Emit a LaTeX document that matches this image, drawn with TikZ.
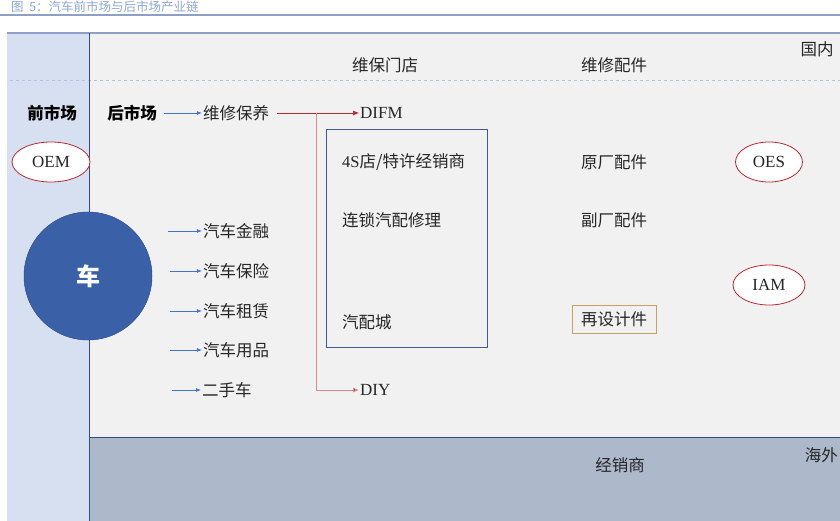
\documentclass[tikz,border=0pt]{standalone}
\usepackage{fontspec}
\setmainfont{Liberation Serif}
\newfontfamily\cjk{Noto Sans CJK SC}
\usetikzlibrary{arrows.meta,shapes.geometric}
\definecolor{leftcol}{HTML}{D6E0F0}
\definecolor{maingray}{HTML}{F1F1F1}
\definecolor{bottomcol}{HTML}{ADB8CB}
\definecolor{navy}{HTML}{2F4B8C}
\definecolor{carblue}{HTML}{3A60A8}
\definecolor{darkred}{HTML}{B8282E}
\definecolor{pinkred}{HTML}{D88A8A}
\definecolor{arrblue}{HTML}{4472C4}
\definecolor{dashcol}{HTML}{B4C3DC}
\definecolor{titleblue}{HTML}{8FA8D0}
\definecolor{framecol}{HTML}{8EA0C4}
\definecolor{boxblue}{HTML}{44598F}
\definecolor{tan}{HTML}{C8A064}
\definecolor{txt}{HTML}{262626}
\tikzset{
  ct/.style={font=\cjk\fontsize{16.5}{18}\selectfont, text=txt, inner sep=1pt},
  ctb/.style={font=\cjk\bfseries\fontsize{16.5}{18}\selectfont, text=black, inner sep=1pt},
  lt/.style={font=\fontsize{17}{19}\selectfont, text=txt, inner sep=1pt},
  oval/.style={ellipse, draw=darkred, line width=0.8pt, fill=white, font=\fontsize{17}{19}\selectfont, text=txt, inner sep=0pt},
  bluearr/.style={draw=arrblue, line width=0.7pt, -{Latex[length=5pt,width=4pt]}},
  redarr/.style={draw=darkred, line width=0.7pt, -{Latex[length=6pt,width=5pt]}},
  pinkarr/.style={draw=pinkred, line width=0.9pt, -{Latex[length=6pt,width=5pt,fill=darkred]}},
}
\begin{document}
\begin{tikzpicture}[x=1pt,y=-1pt]
\useasboundingbox (0,0) rectangle (840,521);
\clip (0,0) rectangle (840,521);
% title
\node[anchor=west, font=\cjk\fontsize{12.5}{14}\selectfont, text=titleblue, inner sep=0pt] (title) at (11,7) {图\ \ 5：汽车前市场与后市场产业链};
\draw[framecol, line width=1.2pt] (0,15) -- (840,15);
% backgrounds
\fill[leftcol] (7,33) rectangle (89,521);
\fill[maingray] (89,33) rectangle (840,437);
\fill[bottomcol] (89,437) rectangle (840,521);
\draw[framecol, line width=2pt] (7,33) -- (840,33);
\draw[dashcol, dashed, line width=0.8pt] (10,80) -- (840,80);
\draw[navy, line width=1pt] (89,437) -- (840,437);
\draw[navy, line width=1pt] (89,33) -- (89,521);
% header texts
\node[ct] (wbmd) at (385,65) {维保门店};
\node[ct] (wxpj) at (614,65) {维修配件};
\node[ct] (gn) at (817,49) {国内};
% left labels
\node[ctb] (qsc) at (52,113) {前市场};
\node[ctb] (hsc) at (132,113) {后市场};
\node[ct] (wxby) at (236,113) {维修保养};
\node[lt, anchor=west] (difm) at (359,113) {DIFM};
\node[lt, anchor=west] (diy) at (359,390) {DIY};
\draw[bluearr] (hsc.east) ++(6,0) -- (wxby.west);
\draw[redarr] (wxby.east) ++(7,0) coordinate (rs) -- (difm.west);
\coordinate (br) at (316,113);
\coordinate (bd) at (316,390);
\draw[pinkarr] (br) -- (bd) -- (diy.west);
% store box
\node[draw=boxblue, line width=1pt, minimum width=161pt, minimum height=218pt, anchor=north west, inner sep=0pt] (storebox) at (326,129) {};
\node[ct, anchor=west] (s4) at (341,162) {\fontspec{Liberation Serif}4S\cjk 店/特许经销商};
\node[ct, anchor=west] (lsqp) at (341,220) {连锁汽配修理};
\node[ct, anchor=west] (qpc) at (341,322) {汽配城};
% parts
\node[ct] (ycpj) at (614,162) {原厂配件};
\node[ct] (fcpj) at (614,220) {副厂配件};
\node[ct, draw=tan, line width=0.8pt, minimum width=84pt, minimum height=28pt] (zsj) at (614,319) {再设计件};
% ovals
\node[oval, minimum width=78pt, minimum height=40pt] (oem) at (51,162) {OEM};
\node[oval, minimum width=67pt, minimum height=40pt] (oes) at (769,162) {OES};
\node[oval, minimum width=72pt, minimum height=40pt] (iam) at (769,285) {IAM};
% car
\node[circle, fill=carblue, draw=navy, line width=0.5pt, minimum size=128pt, font=\cjk\bfseries\fontsize{24}{26}\selectfont, text=white] (car) at (88,276) {车};
% services
\node[ct] (jr) at (236,231) {汽车金融};
\node[ct] (bx) at (236,271) {汽车保险};
\node[ct] (zl) at (236,311) {汽车租赁};
\node[ct] (yp) at (236,350) {汽车用品};
\node[ct, anchor=west] (esc) at (201,390) {二手车};
\coordinate (a1) at (168,231);
\coordinate (a2) at (170,271);
\coordinate (a3) at (170,311);
\coordinate (a4) at (170,350);
\coordinate (a5) at (172,390);
\draw[bluearr] (a1) -- (jr.west);
\draw[bluearr] (a2) -- (bx.west);
\draw[bluearr] (a3) -- (zl.west);
\draw[bluearr] (a4) -- (yp.west);
\draw[bluearr] (a5) -- (esc.west);
% bottom
\node[ct] (jxs) at (620,465) {经销商};
\node[ct, anchor=east] (hw) at (839,455) {海外};
\end{tikzpicture}
\end{document}
